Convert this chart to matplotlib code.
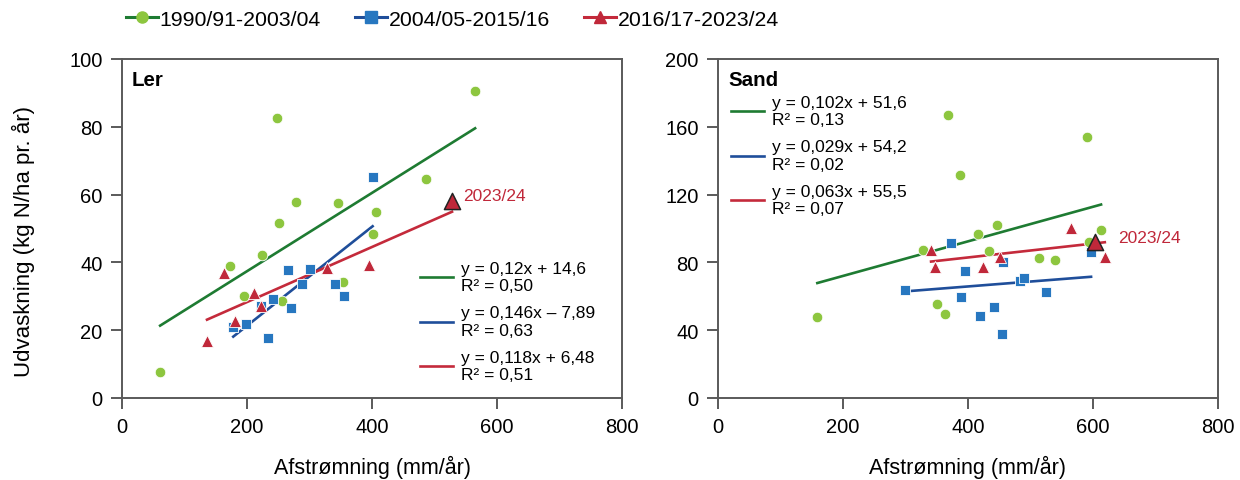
import numpy as np
import matplotlib
matplotlib.use('Agg')
import matplotlib.pyplot as plt
from matplotlib.lines import Line2D

plt.rcParams['font.family'] = ['Liberation Sans', 'DejaVu Sans']

# Perioder og farver
perioder = ['1990/91-2003/04', '2004/05-2015/16', '2016/17-2023/24']
linjefarver = ['#1e7b32', '#1f4e9a', '#c42a3b']
punktfarver = ['#8dc63f', '#2777c0', '#c0283a']
markoerer = ['o', 's', '^']
stoerrelser = [58, 55, 75]

# Ler - afstrømning (mm/år) og udvaskning (kg N/ha)
ler_x_1 = [61, 173, 195, 224, 251, 256, 248, 278, 346, 353, 402, 406, 487, 565]
ler_y_1 = [7.7, 38.9, 30.2, 42.3, 51.6, 28.7, 82.7, 57.9, 57.5, 34.3, 48.4, 54.8, 64.6, 90.6]
ler_x_2 = [178, 198, 233, 241, 222, 270, 266, 300, 288, 340, 355, 401]
ler_y_2 = [21.0, 21.7, 17.7, 29.2, 27.0, 26.5, 37.9, 38.1, 33.6, 33.6, 30.2, 65.3]
ler_x_3 = [136, 163, 180, 211, 222, 328, 395, 528]
ler_y_3 = [16.9, 36.9, 22.8, 30.9, 27.2, 38.3, 39.2, 58.0]

# Sand
sand_x_1 = [159, 328, 350, 363, 368, 387, 416, 434, 447, 513, 539, 590, 594, 613]
sand_y_1 = [48.0, 87.5, 55.6, 49.4, 167.0, 131.7, 96.7, 86.7, 102.0, 82.6, 81.6, 153.8, 92.2, 99.3]
sand_x_2 = [300, 373, 389, 396, 419, 442, 455, 456, 484, 490, 525, 597]
sand_y_2 = [63.7, 91.3, 59.8, 74.9, 48.4, 53.7, 37.9, 80.1, 69.2, 70.8, 62.4, 86.0]
sand_x_3 = [341, 348, 424, 452, 565, 619, 603]
sand_y_3 = [87.5, 77.1, 77.5, 83.2, 100.1, 83.2, 91.9]

# Trendlinjer som tegnet (hældning, skæring)
ler_trend = [(0.1155, 14.3), (0.146, -7.89), (0.0812, 12.06)]
sand_trend = [(0.102, 51.6), (0.029, 54.2), (0.041, 66.5)]

# Ligningstekster
ler_tekst = ['y = 0,12x + 14,6\nR² = 0,50',
             'y = 0,146x – 7,89\nR² = 0,63',
             'y = 0,118x + 6,48\nR² = 0,51']
sand_tekst = ['y = 0,102x + 51,6\nR² = 0,13',
              'y = 0,029x + 54,2\nR² = 0,02',
              'y = 0,063x + 55,5\nR² = 0,07']

# Seneste år (2023/24)
ler_sidste = (528, 58.0)
sand_sidste = (603, 91.9)

fig = plt.figure(figsize=(12.4, 4.81), dpi=100)
ax1 = fig.add_axes([0.0984, 0.1705, 0.4032, 0.7048])
ax2 = fig.add_axes([0.579, 0.1705, 0.4032, 0.7048])

def tegn(ax, xs, ys, trend, tekster, sidste, ymax, ystep, navn, leg_loc, tekst_dx, tekst_dy):
    for i in range(3):
        x = np.array(xs[i])
        y = np.array(ys[i])
        a, b = trend[i]
        xl = np.array([x.min(), x.max()])
        ax.plot(xl, a * xl + b, color=linjefarver[i], lw=1.9, zorder=2)
        ax.scatter(x, y, marker=markoerer[i], s=stoerrelser[i], color=punktfarver[i],
                   edgecolors='white', linewidths=0.6, zorder=3)
    ax.scatter([sidste[0]], [sidste[1]], marker='^', s=135, color=punktfarver[2],
               edgecolors='#222222', linewidths=1.1, zorder=4)
    ax.text(sidste[0] + tekst_dx, sidste[1] + tekst_dy, '2023/24', color=punktfarver[2],
            fontsize=12.5, va='center', ha='left')
    ax.set_xlim(0, 800)
    ax.set_ylim(0, ymax)
    ax.set_xticks(np.arange(0, 801, 200))
    ax.set_yticks(np.arange(0, ymax + 1, ystep))
    for s in ax.spines.values():
        s.set_color('#5a5a5a')
        s.set_linewidth(1.4)
    ax.tick_params(direction='out', length=8, width=1.4, color='#5a5a5a',
                   labelsize=14.5, pad=6)
    ax.set_xlabel('Afstrømning (mm/år)', fontsize=15.5, labelpad=13)
    ax.text(0.02, 0.94, navn, transform=ax.transAxes, fontsize=14.8,
            fontweight='bold', va='center', ha='left')
    handles = [Line2D([0], [0], color=linjefarver[i], lw=1.9) for i in range(3)]
    ax.legend(handles, tekster, loc=leg_loc[0], bbox_to_anchor=leg_loc[1],
              frameon=False, fontsize=12.5, handlelength=1.9, handletextpad=0.45,
              labelspacing=0.7)

tegn(ax1, [ler_x_1, ler_x_2, ler_x_3], [ler_y_1, ler_y_2, ler_y_3],
     ler_trend, ler_tekst, ler_sidste, 100, 20, 'Ler', ('lower left', (0.565, 0.0)),
     18, 1.8)
tegn(ax2, [sand_x_1, sand_x_2, sand_x_3], [sand_y_1, sand_y_2, sand_y_3],
     sand_trend, sand_tekst, sand_sidste, 200, 40, 'Sand', ('upper left', (-0.005, 0.94)),
     38, 2.5)

ax1.set_ylabel('Udvaskning (kg N/ha pr. år)', fontsize=16)
ax1.yaxis.set_label_coords(-0.175, 0.465)

# Fælles forklaring øverst
top_handles = [Line2D([0], [0], color=linjefarver[i], lw=2.2, marker=markoerer[i],
                      markersize=8, markerfacecolor=punktfarver[i],
                      markeredgecolor=punktfarver[i]) for i in range(3)]
fig.legend(top_handles, perioder, loc='center left', bbox_to_anchor=(0.086, 0.958),
           ncol=3, frameon=False, fontsize=15.3, handlelength=1.5, handletextpad=0.1,
           columnspacing=1.6)

fig.savefig('out.png', dpi=100)
